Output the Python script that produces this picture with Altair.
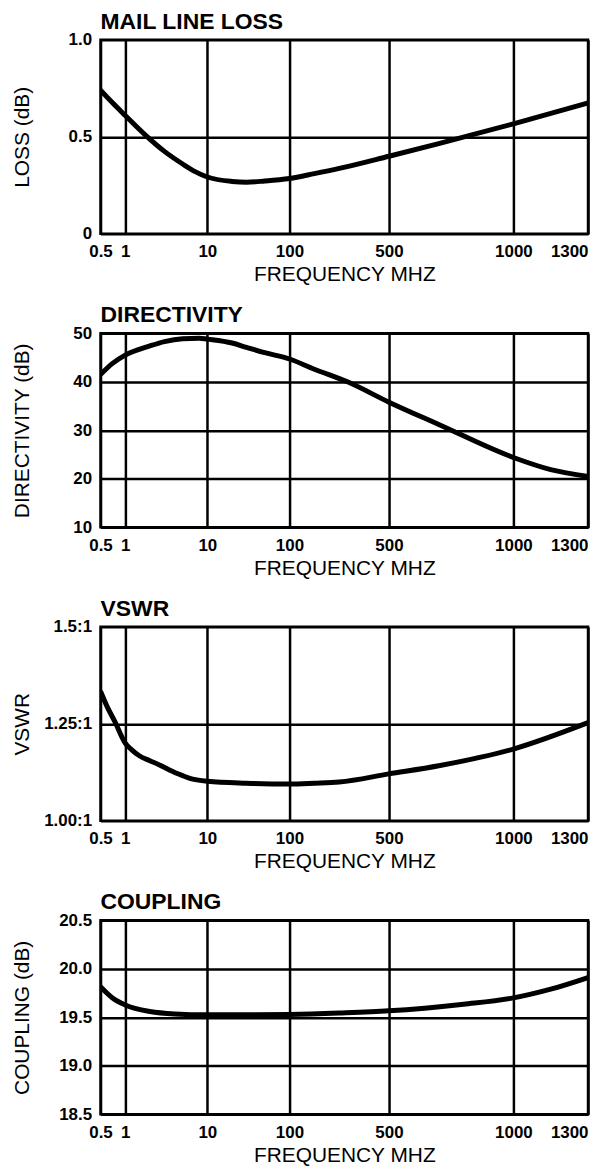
import altair as alt
import pandas as pd

# ---- x axis: frequency ticks (MHz); log spacing up to 100 MHz, linear above ----
FREQ_TICKS = [0.5, 1, 10, 100, 500, 1000, 1300]
FREQ_TICK_LABELS = ["0.5", "1", "10", "100", "500", "1000", "1300"]
LOG_LIMIT = 100          # MHz where chart paper switches from log to linear
MHZ_PER_DECADE = 330     # linear part: MHz per log-decade width

# ---- MAIN LINE LOSS ----
LOSS_FREQ = [0.5, 0.7, 1, 1.8, 3, 5, 7, 10, 20, 30, 50, 100, 200, 300, 500, 700, 1000, 1300]
LOSS_DB = [0.74, 0.675, 0.61, 0.505, 0.425, 0.36, 0.322, 0.293, 0.27, 0.266, 0.272, 0.285, 0.31, 0.337, 0.40, 0.465, 0.567, 0.675]
LOSS_TICKS = [0, 0.5, 1.0]
LOSS_TICK_LABELS = ["0", "0.5", "1.0"]

# ---- DIRECTIVITY ----
DIR_FREQ = [0.5, 0.7, 1, 2, 3, 5, 8, 10, 20, 30, 50, 100, 200, 333, 500, 700, 1000, 1150, 1300]
DIR_DB = [41.5, 43.8, 45.5, 47.4, 48.3, 48.9, 49.0, 48.8, 48.0, 47.1, 46.0, 44.7, 42.6, 40.0, 35.8, 31.2, 24.4, 21.9, 20.5]
DIR_TICKS = [10, 20, 30, 40, 50]
DIR_TICK_LABELS = ["10", "20", "30", "40", "50"]

# ---- VSWR ----
VSWR_FREQ = [0.5, 0.6, 0.77, 0.9, 1, 1.2, 1.5, 2, 2.5, 4.3, 6, 10, 30, 100, 200, 300, 500, 700, 1000, 1300]
VSWR_VAL = [1.334, 1.295, 1.25, 1.218, 1.200, 1.183, 1.167, 1.155, 1.146, 1.122, 1.110, 1.102, 1.097, 1.095, 1.097, 1.100, 1.121, 1.142, 1.185, 1.253]
VSWR_TICKS = [1.0, 1.25, 1.5]
VSWR_TICK_LABELS = ["1.00:1", "1.25:1", "1.5:1"]

# ---- COUPLING ----
COUP_FREQ = [0.5, 0.7, 1, 2, 4, 10, 30, 100, 300, 500, 800, 1000, 1150, 1300]
COUP_DB = [19.816, 19.70, 19.628, 19.56, 19.535, 19.526, 19.526, 19.53, 19.545, 19.567, 19.635, 19.70, 19.79, 19.91]
COUP_TICKS = [18.5, 19.0, 19.5, 20.0, 20.5]
COUP_TICK_LABELS = ["18.5", "19.0", "19.5", "20.0", "20.5"]

FONT = "Liberation Sans"


def paper_pos(f):
    import math
    return math.log10(f) if f <= LOG_LIMIT else math.log10(LOG_LIMIT) + (f - LOG_LIMIT) / MHZ_PER_DECADE


POS_EXPR = (f"datum.f <= {LOG_LIMIT} ? log(datum.f) / LN10 : "
            f"2 + (datum.f - {LOG_LIMIT}) / {MHZ_PER_DECADE}")

X_VALUES = [paper_pos(f) for f in FREQ_TICKS]
X_DOMAIN = [X_VALUES[0], X_VALUES[-1]]


def label_expr(values, labels):
    vals = ",".join(repr(float(v)) for v in values)
    labs = ",".join("'" + s + "'" for s in labels)
    return f"[{labs}][indexof([{vals}], datum.value)]"


def panel(freq, vals, title, ytitle, yticks, ylabels, width=490, height=195):
    df = pd.DataFrame({"f": freq, "v": vals})
    return (
        alt.Chart(df)
        .transform_calculate(pos=POS_EXPR)
        .mark_line(color="black", strokeWidth=5, interpolate="monotone", clip=True)
        .encode(
            x=alt.X(
                "pos:Q",
                scale=alt.Scale(domain=X_DOMAIN, nice=False, zero=False),
                axis=alt.Axis(
                    values=X_VALUES,
                    labelExpr=label_expr(X_VALUES, FREQ_TICK_LABELS),
                    title="FREQUENCY MHZ",
                    labelAlign={"condition": {"test": f"datum.value > {X_DOMAIN[1] - 0.01}", "value": "right"},
                                "value": "center"},
                ),
            ),
            y=alt.Y(
                "v:Q",
                scale=alt.Scale(domain=[yticks[0], yticks[-1]], nice=False, zero=False),
                axis=alt.Axis(values=yticks, labelExpr=label_expr(yticks, ylabels), title=ytitle),
            ),
        )
        .properties(width=width, height=height,
                    title=alt.TitleParams(title, anchor="start", frame="group"))
    )


p1 = panel(LOSS_FREQ, LOSS_DB, "MAIL LINE LOSS", "LOSS (dB)", LOSS_TICKS, LOSS_TICK_LABELS)
p2 = panel(DIR_FREQ, DIR_DB, "DIRECTIVITY", "DIRECTIVITY (dB)", DIR_TICKS, DIR_TICK_LABELS)
p3 = panel(VSWR_FREQ, VSWR_VAL, "VSWR", "VSWR", VSWR_TICKS, VSWR_TICK_LABELS)
p4 = panel(COUP_FREQ, COUP_DB, "COUPLING", "COUPLING (dB)", COUP_TICKS, COUP_TICK_LABELS)

chart = (
    alt.vconcat(p1, p2, p3, p4, spacing=16)
    .properties(padding={"left": 2, "top": -2, "right": 4, "bottom": 0})
    .configure_view(stroke="black", strokeWidth=2.5)
    .configure_axis(
        domain=False, ticks=False, grid=True, gridColor="black", gridWidth=2.5, gridOpacity=1,
        labelFont=FONT, labelFontSize=17, labelFontWeight="bold", labelColor="black",
        titleFont=FONT, titleFontSize=21, titleFontWeight="normal", titleColor="black",
    )
    .configure_axisX(labelPadding=10, titlePadding=4, labelFlush=False)
    .configure_axisY(labelPadding=9, titleX=-68, titleBaseline="bottom")
    .configure_title(font=FONT, fontSize=23, fontWeight="bold", color="black",
                     anchor="start", offset=-3, baseline="alphabetic")
)

chart.save("out.html", embed_options={"renderer": "svg", "actions": False})
